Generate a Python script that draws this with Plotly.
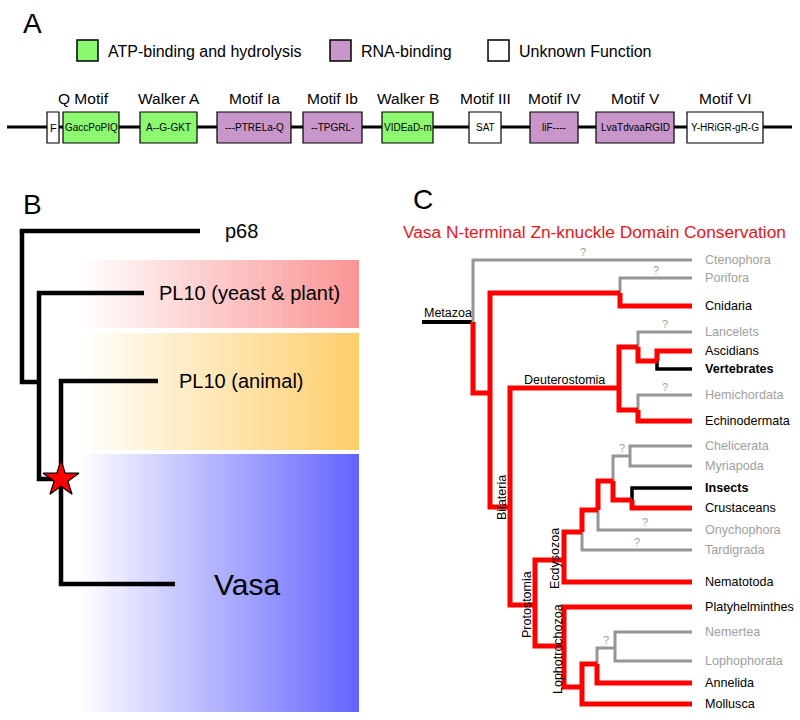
import numpy as np
import plotly.graph_objects as go

# ======================= DATA =======================
# ---- Panel A: DEAD-box helicase motifs ----
LEGEND_LABELS = ["ATP-binding and hydrolysis", "RNA-binding", "Unknown Function"]
LEGEND_KEYS = ["atp", "rna", "unknown"]
MOTIF_TITLES = ["Q Motif", "Walker A", "Motif Ia", "Motif Ib", "Walker B",
                "Motif III", "Motif IV", "Motif V", "Motif VI"]
BOX_SEQS = ["F", "GaccPoPIQ", "A--G-GKT", "---PTRELa-Q", "--TPGRL-", "VIDEaD-m",
            "SAT", "liF----", "LvaTdvaaRGID", "Y-HRiGR-gR-G"]
BOX_FUNCS = ["unknown", "atp", "atp", "rna", "rna", "atp",
             "unknown", "rna", "rna", "unknown"]
BOX_MOTIF = [0, 0, 1, 2, 3, 4, 5, 6, 7, 8]

# ---- Panel B: DEAD-box family tree ----
B_TREE = ("root", ["p68", ("n1", ["PL10 (yeast & plant)",
                                  ("vasa_origin", ["PL10 (animal)", "Vasa"])])])
B_SHADED = ["PL10 (yeast & plant)", "PL10 (animal)", "Vasa"]
B_ORIGIN_NODE = "vasa_origin"

# ---- Panel C: Zn-knuckle conservation across Metazoa ----
C_TITLE = "Vasa N-terminal Zn-knuckle Domain Conservation"
TAXA = ["Ctenophora", "Porifora", "Cnidaria", "Lancelets", "Ascidians", "Vertebrates",
        "Hemichordata", "Echinodermata", "Chelicerata", "Myriapoda", "Insects",
        "Crustaceans", "Onychophora", "Tardigrada", "Nematotoda", "Platyhelminthes",
        "Nemertea", "Lophophorata", "Annelida", "Mollusca"]
TAXA_STATUS = ["unknown", "unknown", "present", "unknown", "present", "lost",
               "unknown", "present", "unknown", "unknown", "lost",
               "present", "unknown", "unknown", "present", "present",
               "unknown", "unknown", "present", "present"]
C_TREE = ("Metazoa", [
    "Ctenophora",
    ("Eumetazoa", [
        ("PorCni", ["Porifora", "Cnidaria"]),
        ("Bilateria", [
            ("Deuterostomia", [
                ("Chordata", ["Lancelets", ("Olfactores", ["Ascidians", "Vertebrates"])]),
                ("Ambulacraria", ["Hemichordata", "Echinodermata"])]),
            ("Protostomia", [
                ("Ecdysozoa", [
                    ("Panarthropoda", [
                        ("OnyArt", [
                            ("Arthropoda", [("Myriochelata", ["Chelicerata", "Myriapoda"]),
                                            ("Pancrustacea", ["Insects", "Crustaceans"])]),
                            "Onychophora"]),
                        "Tardigrada"]),
                    "Nematotoda"]),
                ("Lophotrochozoa", [
                    "Platyhelminthes",
                    ("LophA", [("LophB", [("LophC", ["Nemertea", "Lophophorata"]), "Annelida"]),
                               "Mollusca"])])])])])])
QUERY_BRANCHES = ["Ctenophora", "Porifora", "Lancelets", "Hemichordata", "Myriochelata",
                  "Onychophora", "Tardigrada", "LophC"]
CLADE_LABELS = ["Metazoa", "Deuterostomia", "Bilateria", "Ecdysozoa", "Protostomia",
                "Lophotrochozoa"]

# ======================= LAYOUT / STYLE =======================
FONT = "Liberation Sans, Arial, sans-serif"
FUNC_COLORS = {"atp": "#8cf870", "rna": "#c896c8", "unknown": "#ffffff"}
LEGEND_X = [77, 330, 488]
BOX_X0 = [47, 63, 140, 217, 303, 382, 469, 530, 596, 687]
BOX_X1 = [59, 119, 197, 291, 362, 433, 501, 578, 674, 763]

B_NODE_POS = {"root": (22, None), "n1": (39, 382), "vasa_origin": (61, 479)}
B_LEAF_POS = {"p68": (200, 231), "PL10 (yeast & plant)": (144, 293),
              "PL10 (animal)": (158, 381), "Vasa": (175, 584)}
B_LEAF_FONT = {"p68": 20, "PL10 (yeast & plant)": 20, "PL10 (animal)": 20, "Vasa": 30}
B_LABEL_GAP = {"p68": 23, "PL10 (yeast & plant)": 13, "PL10 (animal)": 19, "Vasa": 37}
B_BANDS = {"PL10 (yeast & plant)": (260, 328, "rgb(250,148,148)"),
           "PL10 (animal)": (333, 450, "rgb(255,206,108)"),
           "Vasa": (454, 712, "rgb(100,100,255)")}
B_BAND_X = (78, 359)

C_NODE_POS = {"Metazoa": (473, 322), "Eumetazoa": (490, 393), "PorCni": (620, 293),
              "Bilateria": (510, 507), "Deuterostomia": (619, 388), "Chordata": (638, 347),
              "Olfactores": (657, 361), "Ambulacraria": (638, 410),
              "Protostomia": (535, 605), "Ecdysozoa": (564, 560),
              "Panarthropoda": (582, 532), "OnyArt": (598, 510), "Arthropoda": (613, 481),
              "Myriochelata": (630, 456), "Pancrustacea": (632, 500),
              "Lophotrochozoa": (564, 646), "LophA": (582, 687), "LophB": (597, 664),
              "LophC": (615, 648)}
C_LEAF_Y = [260, 278, 306, 332, 351, 369, 395, 421, 446, 466, 488, 508, 530, 550,
            582, 607, 632, 661, 683, 704]
C_LEAF_END = 692
C_ROOT_STEM_X = 422
C_CLADE_POS = {"Metazoa": (448, 313, 0), "Deuterostomia": (564, 380, 0),
               "Bilateria": (502, 498, -90), "Ecdysozoa": (555, 559, -90),
               "Protostomia": (527, 605, -90), "Lophotrochozoa": (558, 649, -90)}
STATUS_COLOR = {"present": "#ff0000", "unknown": "#969696", "lost": "#000000"}
STATUS_WIDTH = {"present": 5, "unknown": 3, "lost": 3.5}
STATUS_TEXT = {"present": "#000000", "unknown": "#a0a0a0", "lost": "#000000"}

# ======================= BUILD =======================
fig = go.Figure()
ann = []
shapes = []


def text(x, y, s, size, color="black", xanchor="left", angle=0, bold=False):
    ann.append(dict(x=x, y=y, xref="x", yref="y", text=("<b>%s</b>" % s) if bold else s,
                    showarrow=False, xanchor=xanchor, yanchor="middle", textangle=angle,
                    font=dict(family=FONT, size=size, color=color)))


# ---- Panel letters
text(32, 23, "A", 28, xanchor="center")
text(32, 204, "B", 28, xanchor="center")
text(423, 199, "C", 28, xanchor="center")

# ---- Panel A legend
for key, lab, lx in zip(LEGEND_KEYS, LEGEND_LABELS, LEGEND_X):
    shapes.append(dict(type="rect", xref="x", yref="y", x0=lx, x1=lx + 21, y0=40, y1=61,
                       fillcolor=FUNC_COLORS[key], line=dict(color="black", width=1.5)))
    text(lx + 29, 51, lab, 16)

# ---- Panel A motif row
fig.add_trace(go.Scatter(x=[7, 792], y=[127, 127], mode="lines",
                         line=dict(color="black", width=3), hoverinfo="skip"))
for seq, fn, x0, x1 in zip(BOX_SEQS, BOX_FUNCS, BOX_X0, BOX_X1):
    shapes.append(dict(type="rect", xref="x", yref="y", x0=x0, x1=x1, y0=112, y1=143,
                       fillcolor=FUNC_COLORS[fn], line=dict(color="black", width=1.2),
                       layer="above"))
    text((x0 + x1) / 2, 127.5, seq, 10 if len(seq) > 1 else 11, xanchor="center")
for i, title in enumerate(MOTIF_TITLES):
    idx = [j for j, m in enumerate(BOX_MOTIF) if m == i]
    cx = (min(BOX_X0[j] for j in idx) + max(BOX_X1[j] for j in idx)) / 2
    text(cx, 98, title, 15.5, xanchor="center")

# ---- Panel B gradient bands
nb = 140
for clade in B_SHADED:
    y0, y1, col = B_BANDS[clade]
    xe = np.linspace(B_BAND_X[0], B_BAND_X[1], nb + 1)
    fig.add_trace(go.Heatmap(x=xe, y=[y0, y1], z=[np.linspace(0, 1, nb)],
                             colorscale=[[0, "white"], [1, col]], zmin=0, zmax=1,
                             showscale=False, hoverinfo="skip"))


def walk(node, nodepos, leafpos, color_of, width_of, segs, extra):
    """Collect elbow paths for a tree."""
    name, children = node
    nx, ny = nodepos[name]
    child_pos = []
    for c in children:
        if isinstance(c, tuple):
            cx, cy = nodepos[c[0]]
            cname = c[0]
        else:
            cx, cy = leafpos(c)
            cname = c
        child_pos.append((cname, c, cx, cy))
    if ny is None:
        ny = min(cy for _, _, _, cy in child_pos)
        start_ext = True
    else:
        start_ext = False
    for cname, c, cx, cy in child_pos:
        col, w = color_of(c), width_of(c)
        y_start = ny - w / 2 if (start_ext and cy == ny) else ny
        segs.setdefault((col, w), []).append([(nx, y_start), (nx, cy), (cx, cy)])
        extra.append((cname, nx, cx, cy))
        if isinstance(c, tuple):
            walk(c, nodepos, leafpos, color_of, width_of, segs, extra)


def draw_segs(segs):
    for (col, w), paths in segs.items():
        xs, ys = [], []
        for p in paths:
            xs += [q[0] for q in p] + [None]
            ys += [q[1] for q in p] + [None]
        fig.add_trace(go.Scatter(x=xs, y=ys, mode="lines", hoverinfo="skip",
                                 line=dict(color=col, width=w)))


# ---- Panel B tree
segsB, extraB = {}, []
walk(B_TREE, B_NODE_POS, lambda n: B_LEAF_POS[n], lambda c: "black", lambda c: 4.5,
     segsB, extraB)
draw_segs(segsB)
for leaf, (lx, ly) in B_LEAF_POS.items():
    text(lx + B_LABEL_GAP[leaf], ly, leaf, B_LEAF_FONT[leaf])
sx, sy = B_NODE_POS[B_ORIGIN_NODE]
fig.add_trace(go.Scatter(x=[sx], y=[sy], mode="markers", hoverinfo="skip",
                         marker=dict(symbol="star", size=27, color="#ff0000",
                                     line=dict(color="black", width=1.2))))

# ---- Panel C tree
status = dict(zip(TAXA, TAXA_STATUS))
leaf_y = dict(zip(TAXA, C_LEAF_Y))


def clade_status(c):
    if not isinstance(c, tuple):
        return status[c]
    sts = [clade_status(k) for k in c[1]]
    for s in ("present", "unknown", "lost"):
        if s in sts:
            return s


segsC, extraC = {}, []
walk(C_TREE, C_NODE_POS, lambda n: (C_LEAF_END, leaf_y[n]),
     lambda c: STATUS_COLOR[clade_status(c)], lambda c: STATUS_WIDTH[clade_status(c)],
     segsC, extraC)
order = [STATUS_COLOR[s] for s in ("unknown", "lost", "present")]
segsC = dict(sorted(segsC.items(), key=lambda kv: order.index(kv[0][0])))
rx, ry = C_NODE_POS["Metazoa"]
fig.add_trace(go.Scatter(x=[C_ROOT_STEM_X, rx], y=[ry, ry], mode="lines", hoverinfo="skip",
                         line=dict(color="black", width=4)))
draw_segs(segsC)
for cname, px, cx, cy in extraC:
    if cname in QUERY_BRANCHES:
        text((px + cx) / 2, cy - 8, "?", 11, color="#a0a0a0", xanchor="center")
for t, st, y in zip(TAXA, TAXA_STATUS, C_LEAF_Y):
    text(C_LEAF_END + 11, y, t, 12.6, color=STATUS_TEXT[st], bold=(st == "lost"))
for cl in CLADE_LABELS:
    x, y, a = C_CLADE_POS[cl]
    text(x, y, cl, 12.5, xanchor="center", angle=a)
text(594, 232, C_TITLE, 17.3, color="rgb(235,20,25)", xanchor="center")

fig.update_layout(width=800, height=720, autosize=False,
                  margin=dict(l=0, r=0, t=0, b=0),
                  paper_bgcolor="white", plot_bgcolor="white", showlegend=False,
                  xaxis=dict(range=[0, 800], visible=False, fixedrange=True),
                  yaxis=dict(range=[720, 0], visible=False, fixedrange=True),
                  annotations=ann, shapes=shapes)
fig.write_html("out.html", config={"displayModeBar": False},
               post_script="document.body.style.margin='0px';")
